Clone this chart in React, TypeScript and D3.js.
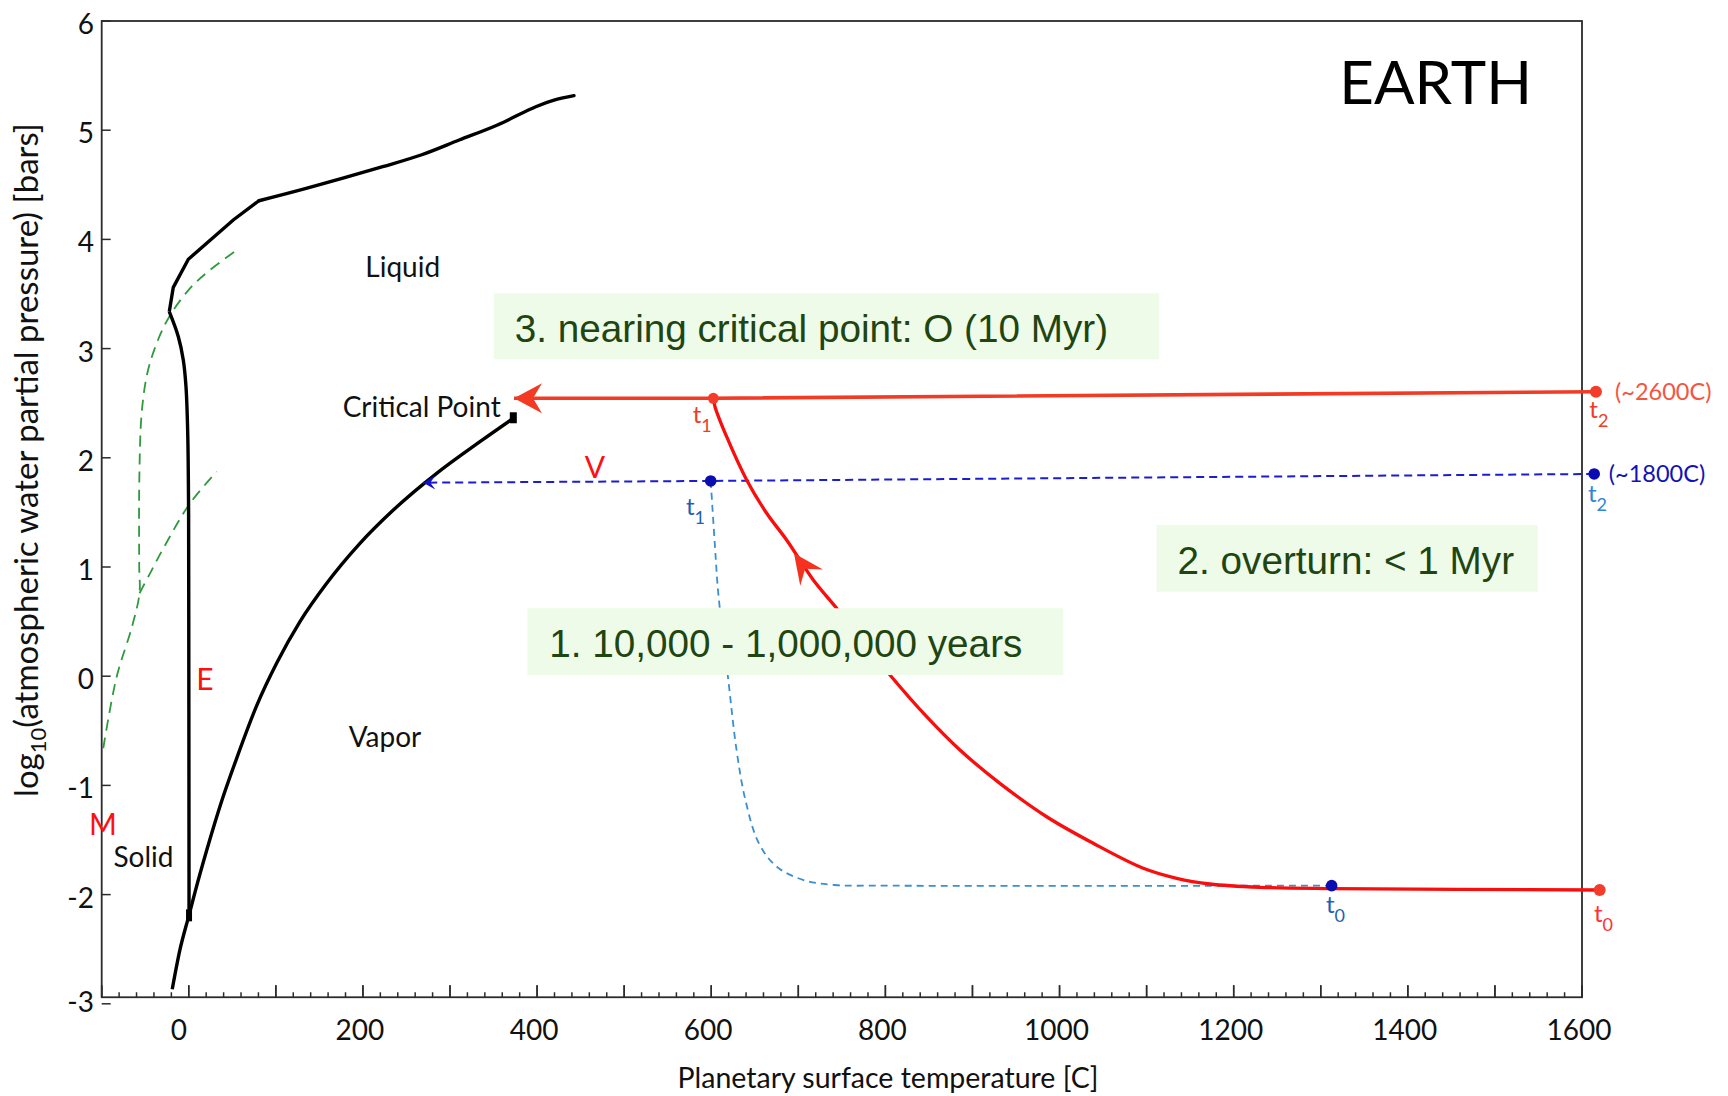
import React from 'react';
import * as d3 from 'd3';

// ---- axes ----
const T_DOMAIN: [number, number] = [-100, 1600];
const P_DOMAIN: [number, number] = [-3, 6];
const P_FLOOR = -2.94; // level at which the temperature axis is drawn
const X_TICK_LABELS = [0, 200, 400, 600, 800, 1000, 1200, 1400, 1600];
const X_MAJOR = d3.range(-100, 1601, 100);
const X_MINOR = d3.range(-100, 1601, 20);
const Y_TICKS = [-3, -2, -1, 0, 1, 2, 3, 4, 5, 6];

// ---- water phase boundaries: [temperature C, log10 P bar] ----
const MELT_HP_SEGMENTS: [number, number][] = [
  [-22.4, 3.338], [-17.8, 3.561], [-0.5, 3.818], [51.1, 4.178], [80.6, 4.354],
];
const MELT_HP_CURVE: [number, number][] = [
  [80.6, 4.354], [134.8, 4.467], [222.7, 4.666], [266.7, 4.773], [310.5, 4.91],
  [354.5, 5.048], [398.5, 5.215], [420.4, 5.277], [442.4, 5.316],
];
const MELT_LOW: [number, number][] = [
  [-22.4, 3.338], [-12, 3.109], [-6.3, 2.896], [-3.2, 2.651], [-1.2, 2.224],
  [-0.2, 1.49], [0, 0.5], [0.2, -1], [0.3, -2.2],
];
const VAPOR: [number, number][] = [
  [-19, -2.867], [-10.2, -2.507], [0.2, -2.19], [7.4, -1.97], [20.6, -1.594],
  [38.1, -1.136], [55, -0.752], [78, -0.27], [101, 0.12], [127.7, 0.5],
  [158.4, 0.851], [196.6, 1.217], [234.9, 1.522], [284.7, 1.858], [334.4, 2.148],
  [372.7, 2.362],
];
const TRIPLE_POINT: [number, number] = [0.3, -2.19];
const CRITICAL_POINT: [number, number] = [372.7, 2.362];

// ---- dashed green boundaries ----
const GREEN_A: [number, number][] = [
  [-98.2, -0.66], [-82.8, -0.005], [-65.2, 0.453], [-56.6, 0.76], [-56.9, 1.0],
  [-56.8, 1.8], [-54.1, 2.407], [-47.6, 2.774], [-36.8, 3.05], [-22.4, 3.292],
  [1.4, 3.552], [24.4, 3.72], [54.2, 3.897],
];
const GREEN_B: [number, number][] = [
  [-56.6, 0.76], [-44.5, 0.942], [-29.2, 1.171], [1.4, 1.583], [32.1, 1.873],
];

// ---- evolution tracks ----
const HOT_TRACK: [number, number][] = [[1616, 2.605], [602.4, 2.545], [373.5, 2.545]];
const COOLING_TRACK: [number, number][] = [
  [1620.3, -1.958], [1312.5, -1.945], [1230.2, -1.933], [1172.7, -1.903],
  [1134.5, -1.851], [1096.2, -1.759], [1038.7, -1.53], [985.2, -1.287],
  [931.5, -0.981], [885.6, -0.676], [847.4, -0.371], [805.3, 0.011], [744.1, 0.622],
  [717.2, 0.881], [686.6, 1.247], [663.7, 1.492], [640.7, 1.797], [617.7, 2.193],
  [604.3, 2.468], [602.4, 2.545],
];
const COOLING_ARROW: [number, number] = [695, 1.125];
const BLUE_TRACK: [number, number][] = [[1614, 1.852], [599.4, 1.788], [269.3, 1.772]];
const BLUE_DROP: [number, number][] = [
  [599.4, 1.788], [604.3, 1.186], [608.1, 0.759], [619.6, -0.035], [629.1, -0.678],
  [639.3, -1.136], [654.7, -1.53], [675.3, -1.745], [706.1, -1.867], [741.9, -1.912],
  [800, -1.918], [1312.5, -1.918],
];
const RED_POINTS: [number, number][] = [[602.4, 2.545], [1616, 2.605], [1620.3, -1.958]];
const BLUE_POINTS: [number, number][] = [[599.4, 1.788], [1614, 1.852], [1312.5, -1.918]];

// ---- annotations (anchored in data units) ----
const PHASE_LABELS = [
  { text: 'Liquid', at: [245.7, 3.658] },
  { text: 'Critical Point', at: [267.5, 2.376] },
  { text: 'Vapor', at: [225.3, -0.646] },
  { text: 'Solid', at: [-52, -1.744] },
];
const RED_LETTERS = [
  { text: 'E', at: [18.6, -0.126] },
  { text: 'M', at: [-98.5, -1.454] },
  { text: 'V', at: [466.5, 1.812] },
];
const TIME_LABELS = [
  { sub: '1', at: [578.7, 2.316], color: '#ef3a26' },
  { sub: '1', at: [571, 1.476], color: '#1f5fb3' },
  { sub: '2', at: [1608.4, 2.362], color: '#ef3a26' },
  { sub: '2', at: [1606.8, 1.598], color: '#2f86d3' },
  { sub: '0', at: [1306, -2.171], color: '#1f5fb3' },
  { sub: '0', at: [1613.7, -2.248], color: '#ff3030' },
];
const TEMP_NOTES = [
  { text: '(~2600C)', at: [1638, 2.529], color: '#f4553f' },
  { text: '(~1800C)', at: [1630.8, 1.781], color: '#1212b5' },
];
const STAGE_BOXES = [
  { text: '3. nearing critical point: O (10 Myr)', box: [350.2, 1114.5, 3.506, 2.902], textAt: [374.3, 3.063] },
  { text: '2. overturn: < 1 Myr', box: [1111.4, 1549.2, 1.385, 0.774], textAt: [1135.5, 0.936] },
  { text: '1. 10,000 - 1,000,000 years', box: [388.9, 1004.4, 0.622, 0.011], textAt: [413.9, 0.179] },
];

const FONT = "Lato, 'Open Sans', sans-serif";
const BOX_FONT = "'Liberation Sans', Arial, sans-serif";

type Pt = [number, number];

export default function App() {
  const x = d3.scaleLinear().domain(T_DOMAIN).range([101.7, 1582]);
  const y = d3.scaleLinear().domain(P_DOMAIN).range([1003.8, 21]);

  const path = (pts: Pt[], curve: d3.CurveFactory = d3.curveLinear) =>
    d3.line<Pt>().x((d) => x(d[0])).y((d) => y(d[1])).curve(curve)(pts) || '';

  const arrowHead = (tip: Pt, from: Pt, L: number, W: number, N: number) => {
    const tx = x(tip[0]), ty = y(tip[1]);
    const fx = x(from[0]), fy = y(from[1]);
    let dx = tx - fx, dy = ty - fy;
    const len = Math.hypot(dx, dy) || 1;
    dx /= len; dy /= len;
    const px = -dy, py = dx;
    const pts = [
      [tx, ty],
      [tx - dx * L + px * W, ty - dy * L + py * W],
      [tx - dx * N, ty - dy * N],
      [tx - dx * L - px * W, ty - dy * L - py * W],
    ];
    return 'M' + pts.map((p) => p.join(',')).join('L') + 'Z';
  };

  const xL = x(T_DOMAIN[0]), xR = x(T_DOMAIN[1]);
  const yT = y(P_DOMAIN[1]), yB = y(P_FLOOR);
  const axisColor = '#2b2b2b';

  return (
    <svg
      width={1728}
      height={1096}
      viewBox="0 0 1728 1096"
      style={{ position: 'absolute', left: 0, top: 0, background: '#fff' }}
    >
      <rect x={0} y={0} width={1728} height={1096} fill="#fff" />

      {/* frame */}
      <rect x={xL} y={yT} width={xR - xL} height={yB - yT} fill="none" stroke={axisColor} strokeWidth={1.8} />

      {/* bottom axis ticks, pointing inward */}
      {X_MINOR.map((t) => (
        <line key={'mn' + t} x1={x(t)} x2={x(t)} y1={yB} y2={yB - (t % 100 === 0 ? 12 : 5)} stroke={axisColor} strokeWidth={1.5} />
      ))}
      {X_MAJOR.map((t) => (
        <line key={'mj' + t} x1={x(t)} x2={x(t)} y1={yB} y2={yB - 12} stroke={axisColor} strokeWidth={1.5} />
      ))}
      {X_TICK_LABELS.map((t) => (
        <text key={'xl' + t} x={x(t) - (t === 0 ? 10 : 3)} y={1040} textAnchor="middle" fontFamily={FONT} fontSize={28} fill="#111">
          {t}
        </text>
      ))}

      {/* left axis ticks */}
      {Y_TICKS.map((v) => (
        <g key={'y' + v}>
          <line x1={xL} x2={xL + 9} y1={y(v)} y2={y(v)} stroke={axisColor} strokeWidth={1.5} />
          <text x={94} y={v === -3 ? yB + 4 : y(v) + 2} textAnchor="end" dominantBaseline="central" fontFamily={FONT} fontSize={28} fill="#111">
            {v}
          </text>
        </g>
      ))}

      {/* axis titles */}
      <text x={888} y={1088} textAnchor="middle" fontFamily={FONT} fontSize={28.5} fill="#111">
        Planetary surface temperature [C]
      </text>
      <text transform="translate(38,460) rotate(-90)" textAnchor="middle" fontFamily={FONT} fontSize={33} fill="#111">
        log<tspan fontSize={22} dy={8}>10</tspan>
        <tspan dy={-8}>(atmospheric water partial pressure) [bars]</tspan>
      </text>

      {/* dashed green boundaries */}
      <path d={path(GREEN_A, d3.curveCatmullRom)} fill="none" stroke="#2e9a3c" strokeWidth={1.8} strokeDasharray="11,7" />
      <path d={path(GREEN_B, d3.curveCatmullRom)} fill="none" stroke="#2e9a3c" strokeWidth={1.8} strokeDasharray="11,7" />

      {/* phase boundaries */}
      <path d={path(MELT_HP_SEGMENTS)} fill="none" stroke="#000" strokeWidth={3.4} strokeLinejoin="miter" />
      <path d={path(MELT_HP_CURVE, d3.curveCatmullRom)} fill="none" stroke="#000" strokeWidth={3.4} strokeLinecap="round" />
      <path d={path(MELT_LOW, d3.curveCatmullRom)} fill="none" stroke="#000" strokeWidth={3.4} />
      <path d={path(VAPOR, d3.curveMonotoneX)} fill="none" stroke="#000" strokeWidth={3.4} />
      <rect x={x(CRITICAL_POINT[0]) - 3.5} y={y(CRITICAL_POINT[1]) - 6} width={7} height={11} fill="#000" />
      <rect x={x(TRIPLE_POINT[0]) - 3} y={y(TRIPLE_POINT[1]) - 6} width={6} height={12} fill="#000" />

      {/* blue tracks */}
      <path d={path(BLUE_DROP, d3.curveCatmullRom)} fill="none" stroke="#3b8fd1" strokeWidth={1.8} strokeDasharray="7,5" />
      <path d={path(BLUE_TRACK)} fill="none" stroke="#1c1cd0" strokeWidth={2} strokeDasharray="8,5" />
      <path d={arrowHead(BLUE_TRACK[2], BLUE_TRACK[1], 12, 7, 7)} fill="#1010c8" />

      {/* red tracks */}
      <path d={path(COOLING_TRACK, d3.curveCatmullRom)} fill="none" stroke="#fa0d0d" strokeWidth={3.3} />
      <path d={arrowHead(COOLING_ARROW, [717.2, 0.881], 30, 14, 19)} fill="#f5321f" />
      <path d={path(HOT_TRACK)} fill="none" stroke="#f23a24" strokeWidth={3.6} />
      <path d={arrowHead(HOT_TRACK[2], HOT_TRACK[1], 28, 15, 19)} fill="#f23a24" />

      {RED_POINTS.map((p, i) => (
        <circle key={'rp' + i} cx={x(p[0])} cy={y(p[1])} r={i === 0 ? 5.5 : 6} fill="#f43c2a" />
      ))}
      {BLUE_POINTS.map((p, i) => (
        <circle key={'bp' + i} cx={x(p[0])} cy={y(p[1])} r={5.8} fill="#0c0cb0" />
      ))}

      {/* stage boxes */}
      {STAGE_BOXES.map((b, i) => (
        <g key={'sb' + i}>
          <rect
            x={x(b.box[0])}
            y={y(b.box[2])}
            width={x(b.box[1]) - x(b.box[0])}
            height={y(b.box[3]) - y(b.box[2])}
            fill="#eefbe8"
          />
          <text x={x(b.textAt[0])} y={y(b.textAt[1])} fontFamily={BOX_FONT} fontSize={38.7} fill="#1f4510">
            {b.text}
          </text>
        </g>
      ))}

      {/* labels */}
      {PHASE_LABELS.map((l) => (
        <text key={l.text} x={x(l.at[0])} y={y(l.at[1])} textAnchor="middle" fontFamily={FONT} fontSize={28} fill="#111">
          {l.text}
        </text>
      ))}
      {RED_LETTERS.map((l) => (
        <text key={l.text} x={x(l.at[0])} y={y(l.at[1])} textAnchor="middle" fontFamily={FONT} fontSize={30} fill="#ff1010">
          {l.text}
        </text>
      ))}
      {TIME_LABELS.map((l, i) => (
        <text key={'tl' + i} x={x(l.at[0])} y={y(l.at[1])} fontFamily={FONT} fontSize={24} fill={l.color}>
          t<tspan fontSize={18} dy={9}>{l.sub}</tspan>
        </text>
      ))}
      {TEMP_NOTES.map((l) => (
        <text key={l.text} x={x(l.at[0])} y={y(l.at[1])} fontFamily={FONT} fontSize={23.5} fill={l.color}>
          {l.text}
        </text>
      ))}
      <text x={x(1431.9)} y={y(5.237)} textAnchor="middle" fontFamily={FONT} fontSize={60} fill="#000">
        EARTH
      </text>
    </svg>
  );
}
